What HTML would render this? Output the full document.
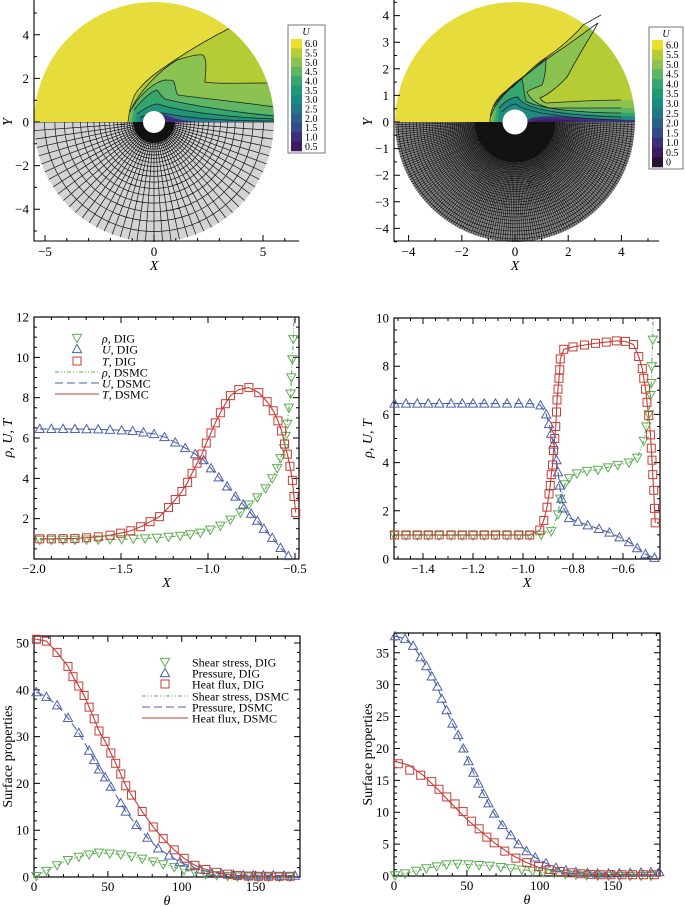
<!DOCTYPE html>
<html><head><meta charset="utf-8"><style>
html,body{margin:0;padding:0;background:#fff}
svg{display:block;font-family:"Liberation Serif",serif}
</style></head><body>
<svg id="fig" width="685" height="906" viewBox="0 0 685 906" xmlns="http://www.w3.org/2000/svg">
<defs>
<clipPath id="clipTLup"><path d="M34,122 A120,120 0 0 1 274,122 Z"/></clipPath>
<clipPath id="clipTLdn"><path d="M34,122 A120,120 0 0 0 274,122 Z"/></clipPath>
<clipPath id="clipTRup"><path d="M395,122 A120,120 0 0 1 635,122 Z"/></clipPath>
<clipPath id="clipTRdn"><path d="M395,122 A120,120 0 0 0 635,122 Z"/></clipPath>
</defs>

<g>
 <g clip-path="url(#clipTLup)">
  <path d="M34,122 A120,120 0 0 1 274,122 Z" fill="#e6dc3c"/>
  <path d="M128,122 C130,105 134,93 140,88 C148,78 160,70 175,60 C190,50 210,38 232,27 L290,20 L290,122 Z" fill="#b6cc34"/>
  <path d="M130,112 C138,92 160,70 177,60 C190,56 198,54 203,55 C208,60 205,75 205,82 C213,84 240,83 290,83 L290,122 L129,122 Z" fill="#8cc24f"/>
  <path d="M132,108 C142,92 155,82 165,80 C170,80 173,80 174,82 C176,88 176,94 178,95 C200,98 240,102 290,107 L290,122 L130,122 Z" fill="#5eb665"/>
  <path d="M134,110 C142,100 150,92 157,90 C160,94 162,97 165,99 C185,104 230,112 290,116 L290,122 L132,122 Z" fill="#35a66e"/>
  <path d="M137,114 C145,108 152,104 158,104 C175,110 220,117 290,119 L290,122 L135,122 Z" fill="#1f9478"/>
  <path d="M140,118 C150,112 160,112 168,114 C190,118 220,121 290,121 L290,122 L139,122 Z" fill="#27778a"/>
  <path d="M142,122 C146,113 160,112 168,116 C178,120 188,121 198,122 Z" fill="#3c2f7e"/>
  <g fill="none" stroke="#222" stroke-width="0.8">
   <path d="M128,122 C130,105 134,93 140,88 C148,78 160,70 175,60 C190,50 210,38 232,27"/>
   <path d="M130,112 C138,92 160,70 177,60 C190,56 198,54 203,55 C208,60 205,75 205,82 C213,84 240,83 270,83"/>
   <path d="M132,108 C142,92 155,82 165,80 C170,80 173,80 174,82 C176,88 176,94 178,95 C200,98 240,102 274,107"/>
   <path d="M134,110 C142,100 150,92 157,90 C160,94 162,97 165,99 C185,104 230,112 274,116"/>
   <path d="M137,114 C145,108 152,104 158,104 C175,110 220,117 274,119"/>
   <path d="M140,118 C150,112 160,112 168,114 C190,118 220,121 274,121"/>
  </g>
 </g>
 <g clip-path="url(#clipTLdn)">
  <path d="M34,122 A120,120 0 0 0 274,122 Z" fill="#d3d3d3"/>
  <g id="meshTL" stroke="#111" stroke-width="0.7" fill="none"></g>
 </g>
 <circle cx="154" cy="122" r="11" fill="#fff"/>
 <g id="axTL"></g>
 <g>
  <rect x="288" y="25" width="37" height="128" fill="#fff" stroke="#555" stroke-width="0.8"/>
  <text x="306" y="35" font-size="10" font-style="italic" text-anchor="middle">U</text>
  <g id="cbTL"></g>
 </g>
</g>

<g>
 <g clip-path="url(#clipTRup)">
  <path d="M395,122 A120,120 0 0 1 635,122 Z" fill="#e6dc3c"/>
  <path d="M490,122 C490,105 500,93 513,87 C525,75 537,63 547,57 C560,48 575,35 583,25 L602,14 L660,14 L660,122 Z" fill="#b6cc34"/>
  <path d="M492,112 C498,98 510,88 520,80 C530,70 540,62 560,50 C575,40 590,30 598,23 C590,35 580,55 567,77 C555,90 545,96 540,98 C542,101 545,103 547,103 C580,101 610,100 660,100 L660,122 L491,122 Z" fill="#8cc24f"/>
  <path d="M494,106 C503,92 515,82 530,72 C537,66 543,60 546,58 C546,70 544,80 542,85 C535,88 528,90 527,92 C530,100 540,106 550,108 C590,108 620,108 660,108 L660,122 L492,122 Z" fill="#5eb665"/>
  <path d="M497,102 C504,93 512,85 522,79 C524,87 524,95 526,101 C540,110 590,113 660,113 L660,122 L495,122 Z" fill="#35a66e"/>
  <path d="M499,108 C505,101 512,97 518,97 C522,106 545,115 660,117 L660,122 L498,122 Z" fill="#1f8a80"/>
  <path d="M526,122 C530,114 560,116 600,119 L660,121 L660,122 Z" fill="#3c2f7e"/>
  <path d="M530,122 C540,118 560,119 590,122 Z" fill="#3e1a5e"/>
 </g>
 <g fill="none" stroke="#222" stroke-width="0.8">
  <path d="M490,122 C490,105 500,93 513,87 C525,75 537,63 547,57 C560,48 575,35 583,25 L601,15"/>
  <path d="M491,116 C495,102 508,90 520,80 C532,70 545,60 560,50 C578,38 590,28 598,23 L593,32 C585,45 575,62 567,77 C555,90 545,96 540,98 C542,101 545,103 547,103 C580,101 610,100 621,100"/>
  <path d="M494,106 C503,92 515,82 530,72 C537,66 543,60 546,58 C546,70 544,80 542,85 C535,88 528,90 527,92 C530,100 540,106 550,108 C590,108 610,108 621,108"/>
  <path d="M497,102 C504,93 512,85 522,79 C524,87 524,95 526,101 C540,110 590,113 621,113"/>
  <path d="M499,108 C505,101 512,97 518,97 C522,106 545,115 621,117"/>
  <path d="M502,112 C508,106 512,104 516,104 C525,112 560,118 621,120"/>
 </g>
 <g clip-path="url(#clipTRdn)">
  <path d="M395,122 A120,120 0 0 0 635,122 Z" fill="#8a8a8a"/>
  <g id="meshTR" stroke="#111" stroke-width="0.6" fill="none"></g>
 </g>
 <circle cx="515" cy="122" r="12.5" fill="#fff"/>
 <g id="axTR"></g>
 <g>
  <rect x="649" y="27" width="34" height="142" fill="#fff" stroke="#555" stroke-width="0.8"/>
  <text x="666" y="37" font-size="10" font-style="italic" text-anchor="middle">U</text>
  <g id="cbTR"></g>
 </g>
</g>

<g id="plots"></g>
</svg>
<script>
// ---------- Middle-left data (rho, U, T vs X) ----------
const mlUx=[-1.967,-1.900,-1.833,-1.765,-1.698,-1.631,-1.563,-1.496,-1.433,-1.371,-1.310,-1.250,-1.188,-1.131,-1.073,-1.025,-0.983,-0.938,-0.890,-0.842,-0.798,-0.752,-0.717,-0.679,-0.631,-0.583,-0.538];
const mlUy=[6.45,6.45,6.45,6.45,6.44,6.43,6.41,6.38,6.35,6.28,6.2,6.05,5.78,5.5,5.2,4.9,4.5,4.05,3.6,3.1,2.7,2.25,1.9,1.5,1.05,0.55,0.15];
const mlTx=[-1.967,-1.900,-1.833,-1.765,-1.698,-1.631,-1.563,-1.502,-1.444,-1.387,-1.333,-1.279,-1.227,-1.188,-1.150,-1.117,-1.092,-1.063,-1.035,-1.010,-0.983,-0.958,-0.929,-0.900,-0.871,-0.823,-0.765,-0.708,-0.660,-0.625,-0.598,-0.577,-0.560,-0.544,-0.529,-0.515,-0.506,-0.496];
const mlTy=[1.0,1.0,1.01,1.02,1.05,1.1,1.18,1.28,1.4,1.6,1.85,2.1,2.55,2.95,3.35,3.8,4.25,4.75,5.2,5.75,6.25,6.75,7.25,7.7,8.1,8.4,8.5,8.25,7.8,7.35,6.85,6.35,5.7,5.2,4.6,3.9,3.1,2.3];
const mlRx=[-1.967,-1.900,-1.833,-1.765,-1.698,-1.631,-1.563,-1.496,-1.429,-1.362,-1.294,-1.227,-1.160,-1.102,-1.044,-0.987,-0.929,-0.871,-0.813,-0.765,-0.717,-0.669,-0.631,-0.602,-0.583,-0.563,-0.554,-0.544,-0.535,-0.525,-0.521,-0.515,-0.510];
const mlRy=[0.95,0.95,0.95,0.95,0.96,0.96,0.97,0.98,1.0,1.02,1.05,1.1,1.15,1.22,1.3,1.45,1.65,1.95,2.3,2.7,3.05,3.5,4.0,4.5,5.0,5.5,6.1,6.7,7.5,8.2,9.0,9.9,10.9];
const mlRlineX=[-0.506];
const mlRlineY=[12];
const mlXticks=[-2.0,-1.5,-1.0,-0.5];
const mlXtickLabels=["\u22122.0","\u22121.5","\u22121.0","\u22120.5"];
const mlYticks=[2,4,6,8,10,12];

// ---------- Middle-right data ----------
const mrUx=[-1.514,-1.468,-1.423,-1.379,-1.335,-1.288,-1.243,-1.200,-1.155,-1.110,-1.064,-1.017,-0.973,-0.930,-0.907,-0.896,-0.887,-0.878,-0.866,-0.860,-0.853,-0.846,-0.837,-0.816,-0.780,-0.741,-0.696,-0.654,-0.614,-0.576,-0.543,-0.510,-0.474];
const mrUy=[6.45,6.45,6.45,6.45,6.45,6.45,6.45,6.45,6.45,6.45,6.45,6.45,6.45,6.38,6.0,5.6,5.2,4.75,4.1,3.6,3.05,2.5,2.1,1.7,1.55,1.4,1.25,1.1,0.9,0.7,0.45,0.2,0.05];
const mrTx=[-1.514,-1.468,-1.423,-1.379,-1.335,-1.288,-1.243,-1.200,-1.155,-1.110,-1.064,-1.017,-0.973,-0.933,-0.917,-0.904,-0.896,-0.891,-0.887,-0.882,-0.878,-0.873,-0.869,-0.866,-0.864,-0.860,-0.856,-0.853,-0.851,-0.837,-0.800,-0.754,-0.710,-0.667,-0.627,-0.590,-0.558,-0.537,-0.523,-0.517,-0.510,-0.504,-0.497,-0.490,-0.487,-0.484,-0.481,-0.477,-0.474,-0.471];
const mrTy=[1,1,1,1,1,1,1,1,1,1,1,1,1.0,1.2,1.6,2.15,2.7,3.05,3.5,3.9,4.5,5.0,5.5,6.1,6.6,7.05,7.5,7.85,8.3,8.7,8.8,8.88,8.95,9.0,9.05,9.03,8.9,8.4,7.9,7.5,7.05,6.5,5.95,5.15,4.6,4.1,3.5,2.85,2.1,1.5];
const mrRx=[-1.514,-1.468,-1.423,-1.379,-1.335,-1.288,-1.243,-1.200,-1.155,-1.110,-1.064,-1.017,-0.973,-0.927,-0.887,-0.860,-0.851,-0.833,-0.816,-0.784,-0.744,-0.700,-0.660,-0.621,-0.576,-0.543,-0.517,-0.507,-0.497,-0.490,-0.487,-0.485,-0.481];
const mrRy=[0.98,0.98,0.98,0.98,0.98,0.98,0.98,0.98,0.98,0.98,0.98,0.98,0.98,1.0,1.15,1.85,2.5,3.1,3.35,3.55,3.65,3.7,3.8,3.9,4.0,4.2,4.9,5.5,6.0,6.8,7.3,8.0,9.1];
const mrRlineX=[-0.480];
const mrRlineY=[10];
const mrXticks=[-1.4,-1.2,-1.0,-0.8,-0.6];
const mrXtickLabels=["\u22121.4","\u22121.2","\u22121.0","\u22120.8","\u22120.6"];
const mrYticks=[0,2,4,6,8,10];

// ---------- Bottom-left data ----------
const blHx=[1.6,8.4,15.6,23,26.4,30.3,33.9,37.3,40.7,44,48.1,52,55.3,58.7,62.1,66,73.2,80.7,87.4,94.9,101.6,108.9,116.3,123.6,131,137.6,145,151.8,158.6,166,173.3];
const blHy=[50.8,50.4,48,45,42.8,40.8,38.8,36.3,33.8,31.2,29,26.5,24.3,22,19.5,17.5,14,10.7,8.2,5.8,4.0,2.5,1.6,1.0,0.6,0.3,0.2,0.15,0.15,0.15,0.15];
const blPx=[1.6,8.4,15.6,23,30.3,37.3,40.7,44,48.1,52,58.7,62.1,69.3,76.8,84,91.5,98.7,105.5,112.3,119.5,126.9,134.9,141.6,148.4,155.2,162,169.2,176.6];
const blPy=[39.5,38.5,36.7,34,30.8,27,25,23,21.3,19.3,15.8,14,11.1,8.4,6.1,4.6,3.2,2.3,1.6,1.0,0.7,0.5,0.4,0.35,0.35,0.35,0.3,0.3];
const blSx=[1.6,8.4,15.6,23,30.3,37.3,44,51.3,58.7,66,73.2,80.7,87.4,94.9,101.6,108.9,116.3,123.6,131,137.6,145,151.8,158.6,166,173.3];
const blSy=[0.2,1.3,2.5,3.6,4.3,4.8,5.2,5.0,4.8,4.4,3.9,3.3,2.7,2.1,1.5,1.0,0.6,0.4,0.2,0.1,0.05,0.03,0.02,0.02,0.02];
const blXticks=[0,50,100,150];
const blYticks=[0,10,20,30,40,50];

// ---------- Bottom-right data ----------
const brPx=[0.7,7.6,13.1,18.3,22.2,25.9,29.8,32.7,36,40.1,44,47.6,51.1,54.5,57.9,61.4,64.8,68.7,74.4,80.1,85.4,90.9,96.9,104.2,111.1,117.9,124.8,132.8,139.7,147.2,154.6,162.1,169.5,176.3,182];
const brPy=[37.6,37.2,36.1,34.3,32.9,31.3,29.7,27.8,26,23.9,22.1,20,18,16.2,14.5,12.9,11.4,9.8,8,6.4,5,3.9,2.9,2,1.3,0.9,0.6,0.5,0.4,0.4,0.45,0.5,0.55,0.6,0.6];
const brHx=[3,10.8,18.3,25.9,30.9,36.2,41.9,47.4,53.1,58.4,63.7,68.7,76,83.6,91.1,99.2,106.5,113.8,121.4,128.2,135.1,142,148.8,156.4,163.7,171.1,178.6];
const brHy=[17.6,16.6,15.8,14.8,13.6,12.4,11.3,10.1,8.6,7.4,6.1,5.2,3.9,2.8,2.1,1.5,1.0,0.7,0.5,0.35,0.25,0.2,0.2,0.2,0.2,0.2,0.2];
const brHlineX=[0,10,20,30,40,50,60,70,80,90,100,110,120,130,140,150,160,170,180];
const brHlineY=[18,17.4,15.8,13.6,11.2,8.9,6.9,5.0,3.4,2.2,1.3,0.8,0.45,0.3,0.2,0.2,0.2,0.2,0.2];
const brSx=[0.7,7.6,15.3,22.2,29.3,36,43.5,51.1,58.4,65.7,73.3,80.1,87.7,95,102.4,109.9,117.5,124.8,132.1,139.7,147.2,154.6,162.1,169.5,176.3];
const brSy=[0.1,0.4,0.8,1.2,1.5,1.8,1.9,1.8,1.7,1.6,1.4,1.2,1.0,0.8,0.6,0.45,0.3,0.2,0.1,0.05,0.03,0.02,0.02,0.02,0.02];
const brXticks=[0,50,100,150];
const brYticks=[0,5,10,15,20,25,30,35];

const cbLevelsL=["6.0","5.5","5.0","4.5","4.0","3.5","3.0","2.5","2.0","1.5","1.0","0.5"];
const cbLevelsR=["6.0","5.5","5.0","4.5","4.0","3.5","3.0","2.5","2.0","1.5","1.0","0.5","0"];
const cbColors=["#ecdf2a","#b6cc34","#8cc24f","#5eb665","#35a66e","#1f9a76","#1c8a80","#237686","#2d6089","#354a88","#3b2f7c","#3e1a5e","#2a1232"];

const NS="http://www.w3.org/2000/svg";
function mk(tag,attrs,parent){const e=document.createElementNS(NS,tag);for(const k in attrs)e.setAttribute(k,attrs[k]);if(parent)parent.appendChild(e);return e;}

function colorbar(id,levels,x0,y0,y1){
  const g=document.getElementById(id);
  const h=(y1-y0)/levels.length;
  levels.forEach((lv,i)=>{
    const r=mk("rect",{x:x0,y:y0+i*h,width:11,height:h+0.3,fill:cbColors[i]},g);
    
    
    const t=mk("text",{x:x0+14,y:y0+i*h+h/2+3.5,"font-size":"10"},g);
    
    
    t.textContent=lv;
  });
}
colorbar("cbTL",cbLevelsL,291,39,151);
colorbar("cbTR",cbLevelsR,652,40,167);

function mesh(id,cx,cy,r0,R,nRad,nCirc,nInner,rInner){
  const g=document.getElementById(id);
  let d="";
  for(let i=0;i<=nRad;i++){const a=Math.PI*i/nRad;d+=`M${cx+r0*Math.cos(a)},${cy+r0*Math.sin(a)}L${cx+R*Math.cos(a)},${cy+R*Math.sin(a)}`;}
  for(let i=0;i<=nInner;i++){const a=Math.PI*i/nInner;d+=`M${cx+r0*Math.cos(a)},${cy+r0*Math.sin(a)}L${cx+rInner*Math.cos(a)},${cy+rInner*Math.sin(a)}`;}
  for(let j=0;j<=nCirc;j++){const r=r0*Math.pow(R/r0,j/nCirc);d+=`M${cx-r},${cy}A${r},${r} 0 0 0 ${cx+r},${cy}`;}
  mk("path",{d:d},g);
}
mesh("meshTL",154,122,11,121,44,24,120,21);
mesh("meshTR",515,122,12.5,121,150,66,360,40);

function contourAxes(id,x0,x1,yTop,yBot,cx,cy,s,xt,yt,xMinor,yMinor){
  const g=document.getElementById(id);
  mk("path",{d:`M${x0},${yTop}V${yBot}H${x1}`,stroke:"#000","stroke-width":"1.1",fill:"none"},g);
  let d="";
  xMinor.forEach(v=>{d+=`M${cx+v*s},${yBot}v-3`;});
  yMinor.forEach(v=>{d+=`M${x0},${cy-v*s}h3`;});
  xt.forEach(v=>{d+=`M${cx+v*s},${yBot}v-6`;});
  yt.forEach(v=>{d+=`M${x0},${cy-v*s}h6`;});
  mk("path",{d:d,stroke:"#000","stroke-width":"1",fill:"none"},g);
  xt.forEach(v=>{const t=mk("text",{x:cx+v*s,y:yBot+15,"font-size":"13","text-anchor":"middle"},g);
    
    
    t.textContent=(v<0?"\u2212":"")+Math.abs(v);});
  yt.forEach(v=>{const t=mk("text",{x:x0-5,y:cy-v*s+4.5,"font-size":"13","text-anchor":"end"},g);
    
    
    t.textContent=(v<0?"\u2212":"")+Math.abs(v);});
  const xl=mk("text",{x:cx,y:yBot+29,"font-size":"14","font-style":"italic","text-anchor":"middle"},g);
  
  
  xl.textContent="X";
  const yl=mk("text",{x:0,y:0,"font-size":"14","font-style":"italic","text-anchor":"middle",transform:`translate(${x0-22},${cy}) rotate(-90)`},g);
  
  
  yl.textContent="Y";
}
function rng(a,b,st){const r=[];for(let v=a;v<=b+1e-9;v+=st)r.push(+v.toFixed(3));return r;}
contourAxes("axTL",34,299,0,241,154,122,21.8,[-5,0,5],[-4,-2,0,2,4],rng(-5,6,1),rng(-5,5,1));
contourAxes("axTR",394,659,0,241,515,122,26.6,[-4,-2,0,2,4],[-4,-3,-2,-1,0,1,2,3,4],rng(-4,5,1),rng(-4.5,4.5,0.5));

const plots=document.getElementById("plots");
const GREEN="#5cae52",BLUE="#4d62aa",RED="#c63c35";
function chart(name,box,xd,yd){
  const g=mk("g",{},plots);
  
  
  const sx=v=>box.l+(v-xd[0])/(xd[1]-xd[0])*(box.r-box.l);
  const sy=v=>box.b-(v-yd[0])/(yd[1]-yd[0])*(box.b-box.t);
  return {g,sx,sy,box};
}
function frame(c,xt,xl,xminor,yt,yminor,xtitle,ytitle,italicY){
  const {g,sx,sy,box}=c;
  let d="";
  xminor.forEach(v=>{const x=sx(v);if(x>=box.l&&x<=box.r)d+=`M${x},${box.b}v-3M${x},${box.t}v3`;});
  yminor.forEach(v=>{const y=sy(v);if(y>=box.t&&y<=box.b)d+=`M${box.l},${y}h3M${box.r},${y}h-3`;});
  xt.forEach(v=>{d+=`M${sx(v)},${box.b}v-6M${sx(v)},${box.t}v6`;});
  yt.forEach(v=>{d+=`M${box.l},${sy(v)}h6M${box.r},${sy(v)}h-6`;});
  mk("path",{d:d,stroke:"#000","stroke-width":"1",fill:"none"},g);
  mk("rect",{x:box.l,y:box.t,width:box.r-box.l,height:box.b-box.t,fill:"none",stroke:"#000","stroke-width":"1.2"},g);
  xt.forEach((v,i)=>{const t=mk("text",{x:sx(v),y:box.b+14,"font-size":"13","text-anchor":"middle"},g);
    
    
    t.textContent=xl[i];});
  yt.forEach(v=>{const t=mk("text",{x:box.l-5,y:sy(v)+4.5,"font-size":"13","text-anchor":"end"},g);
    
    
    t.textContent=String(v);});
  const xt2=mk("text",{x:(box.l+box.r)/2,y:box.b+28,"font-size":"14","font-style":"italic","text-anchor":"middle"},g);
  
  
  xt2.textContent=xtitle;
  const yt2=mk("text",{x:0,y:0,"font-size":"14","text-anchor":"middle","font-style":italicY?"italic":"normal",transform:`translate(${box.l-22},${(box.t+box.b)/2}) rotate(-90)`},g);
  
  
  yt2.textContent=ytitle;
}
function line(c,xs,ys,color,dash,name){
  const d=xs.map((x,i)=>(i?"L":"M")+c.sx(x).toFixed(2)+","+c.sy(ys[i]).toFixed(2)).join("");
  const p=mk("path",{d:d,fill:"none",stroke:color,"stroke-width":"1.1","stroke-dasharray":dash},c.g);
  
  
}
function markers(c,xs,ys,color,shape,name){
  xs.forEach((x,i)=>{
    const px=c.sx(x),py=c.sy(ys[i]);
    let m;
    if(shape==="sq") m=mk("rect",{x:px-4,y:py-4,width:8,height:8},c.g);
    else if(shape==="up") m=mk("path",{d:`M${px-4.6},${py+3.6}L${px+4.6},${py+3.6}L${px},${py-4.6}Z`},c.g);
    else m=mk("path",{d:`M${px-4.6},${py-3.6}L${px+4.6},${py-3.6}L${px},${py+4.6}Z`},c.g);
    m.setAttribute("fill","none");m.setAttribute("stroke",color);m.setAttribute("stroke-width","1");
    
    
  });
}
function legend(c,x0,xm,xt,rows,labels,fs){
  const g=mk("g",{},c.g);
  
  
  const specs=[["dn",GREEN],["up",BLUE],["sq",RED],["l","4 2 1 2 1 2",GREEN],["l","8 4",BLUE],["l","",RED]];
  specs.forEach((s,i)=>{
    const y=rows[i];
    if(s[0]==="l"){const p=mk("path",{d:`M${x0},${y}H${xm*2-x0}`,stroke:s[2],"stroke-width":"1.1","stroke-dasharray":s[1],fill:"none"},g);
      
      }
    else{let m;
      if(s[0]==="sq") m=mk("rect",{x:xm-4,y:y-4,width:8,height:8},g);
      else if(s[0]==="up") m=mk("path",{d:`M${xm-4.6},${y+3.6}L${xm+4.6},${y+3.6}L${xm},${y-4.6}Z`},g);
      else m=mk("path",{d:`M${xm-4.6},${y-3.6}L${xm+4.6},${y-3.6}L${xm},${y+4.6}Z`},g);
      m.setAttribute("fill","none");m.setAttribute("stroke",s[1]);
      
      }
    const t=mk("text",{x:xt,y:y+4.5,"font-size":fs},g);
    
    
    t.innerHTML=labels[i];
  });
}

const ml=chart("profile-chart-left",{l:34,r:299,t:317,b:559},[-2,-0.477],[0,12]);
frame(ml,mlXticks,mlXtickLabels,rng(-2,-0.5,0.1),mlYticks,rng(0,12,0.5),"X","\u03C1, U, T",true);
line(ml,mlRx.concat(mlRlineX),mlRy.concat(mlRlineY),GREEN,"4 2 1 2 1 2","rho-dsmc-line");
line(ml,mlUx,mlUy,BLUE,"8 4","u-dsmc-line");
line(ml,mlTx,mlTy,RED,"","t-dsmc-line");
markers(ml,mlRx,mlRy,GREEN,"dn","rho-dig-marker");
markers(ml,mlUx,mlUy,BLUE,"up","u-dig-marker");
markers(ml,mlTx,mlTy,RED,"sq","t-dig-marker");
const it=s=>`<tspan font-style="italic">${s}</tspan>`;
legend(ml,55,77,102,[338,349,361,372,383,394],[it("\u03C1")+", DIG",it("U")+", DIG",it("T")+", DIG",it("\u03C1")+", DSMC",it("U")+", DSMC",it("T")+", DSMC"],"12");

const mr=chart("profile-chart-right",{l:394,r:660,t:318,b:559},[-1.516,-0.452],[0,10]);
frame(mr,mrXticks,mrXtickLabels,rng(-1.5,-0.45,0.05),mrYticks,rng(0,10,0.5),"X","\u03C1, U, T",true);
line(mr,mrRx.concat(mrRlineX),mrRy.concat(mrRlineY),GREEN,"4 2 1 2 1 2","rho-dsmc-line");
line(mr,mrUx,mrUy,BLUE,"8 4","u-dsmc-line");
line(mr,mrTx,mrTy,RED,"","t-dsmc-line");
markers(mr,mrRx,mrRy,GREEN,"dn","rho-dig-marker");
markers(mr,mrUx,mrUy,BLUE,"up","u-dig-marker");
markers(mr,mrTx,mrTy,RED,"sq","t-dig-marker");

const bl=chart("surface-chart-left",{l:34,r:300,t:636,b:877},[0,180],[0,51.5]);
frame(bl,blXticks,blXticks.map(String),rng(0,180,10),blYticks,rng(0,50,2),"\u03B8","Surface properties",false);
line(bl,blSx,blSy,GREEN,"4 2 1 2 1 2","shear-dsmc-line");
line(bl,blPx,blPy,BLUE,"8 4","pressure-dsmc-line");
line(bl,[0].concat(blHx),[51].concat(blHy),RED,"","heat-dsmc-line");
markers(bl,blSx,blSy,GREEN,"dn","shear-dig-marker");
markers(bl,blPx,blPy,BLUE,"up","pressure-dig-marker");
markers(bl,blHx,blHy,RED,"sq","heat-dig-marker");
legend(bl,142,165,192,[662,673,684,696,707,718],["Shear stress, DIG","Pressure, DIG","Heat flux, DIG","Shear stress, DSMC","Pressure, DSMC","Heat flux, DSMC"],"12");

const br=chart("surface-chart-right",{l:394,r:660,t:633,b:876},[0,182.5],[0,38.1]);
frame(br,brXticks,brXticks.map(String),rng(0,180,10),brYticks,rng(0,38,1),"\u03B8","Surface properties",false);
line(br,brSx,brSy,GREEN,"4 2 1 2 1 2","shear-dsmc-line");
line(br,brPx,brPy,BLUE,"8 4","pressure-dsmc-line");
line(br,brHlineX,brHlineY,RED,"","heat-dsmc-line");
markers(br,brSx,brSy,GREEN,"dn","shear-dig-marker");
markers(br,brPx,brPy,BLUE,"up","pressure-dig-marker");
markers(br,brHx,brHy,RED,"sq","heat-dig-marker");
</script>
</body></html>
